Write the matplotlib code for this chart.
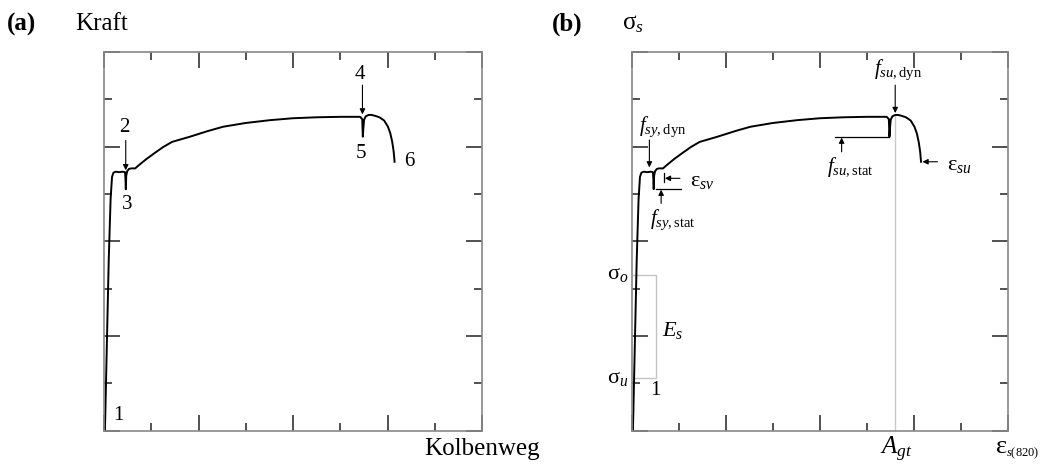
import matplotlib
matplotlib.use('Agg')
import matplotlib.pyplot as plt
from matplotlib.ticker import MultipleLocator

plt.rcParams['font.family'] = ['Liberation Serif', 'DejaVu Serif']
plt.rcParams['mathtext.fontset'] = 'custom'
plt.rcParams['mathtext.rm'] = 'Liberation Serif'
plt.rcParams['mathtext.it'] = 'Liberation Serif:italic'
plt.rcParams['mathtext.bf'] = 'Liberation Serif:bold'

# ---- data (axis units: 8 tick intervals in each direction) ----
strain = [0.02, 0.06, 0.10, 0.14, 0.17, 0.20, 0.25, 0.32, 0.40, 0.445, 0.455, 0.462,
          0.47, 0.49, 0.53, 0.58, 0.66, 0.74, 0.90, 1.08, 1.25, 1.44, 1.82, 2.20,
          2.52, 3.00, 3.52, 4.00, 4.50, 5.00, 5.42, 5.465, 5.478, 5.49, 5.505, 5.54,
          5.60, 5.66, 5.74, 5.83, 5.93, 6.01, 6.06, 6.10, 6.13, 6.15]
stress = [0.00, 1.80, 3.60, 4.90, 5.36, 5.45, 5.47, 5.46, 5.47, 5.46, 5.30, 5.10,
          5.38, 5.48, 5.53, 5.54, 5.54, 5.61, 5.74, 5.87, 5.99, 6.10, 6.21, 6.33,
          6.42, 6.50, 6.56, 6.60, 6.62, 6.63, 6.63, 6.58, 6.21, 6.40, 6.57, 6.64,
          6.67, 6.67, 6.65, 6.62, 6.55, 6.42, 6.28, 6.10, 5.90, 5.68]
point_labels = ['1', '2', '3', '4', '5', '6']

W, H = 1045, 468
fig = plt.figure(figsize=(W / 100, H / 100), dpi=100)


def px(x0, y0, x1, y1):
    return [x0 / W, 1 - y1 / H, (x1 - x0) / W, (y1 - y0) / H]


axA = fig.add_axes(px(104, 52, 482, 430.5))
axB = fig.add_axes(px(632, 52, 1008, 430.5))


def style(ax):
    ax.set_xlim(0, 8)
    ax.set_ylim(0, 8)
    for a in (ax.xaxis, ax.yaxis):
        a.set_major_locator(MultipleLocator(2))
        a.set_minor_locator(MultipleLocator(1))
    ax.tick_params(which='both', direction='in', top=True, right=True,
                   labelbottom=False, labelleft=False, color='#222222', width=1.1)
    ax.tick_params(which='major', length=11.5)
    ax.tick_params(which='minor', length=5.8)
    for s in ax.spines.values():
        s.set_color('#888888')
        s.set_linewidth(1.2)
    ax.plot(strain, stress, color='black', lw=1.4, solid_joinstyle='round')


def arrow(ax, tip, tail):
    ax.annotate('', xy=tip, xytext=tail,
                arrowprops=dict(arrowstyle='-|>', color='black', lw=0.8,
                                mutation_scale=8, shrinkA=0, shrinkB=0))


style(axA)
style(axB)

# ---------- panel (a) ----------
fsN = 15
axA.text(0.30, 0.31, point_labels[0], fontsize=fsN, ha='center', va='center')
axA.text(0.44, 6.40, point_labels[1], fontsize=fsN, ha='center', va='center')
arrow(axA, (0.46, 5.50), (0.46, 6.13))
axA.text(0.50, 4.77, point_labels[2], fontsize=fsN, ha='center', va='center')
axA.text(5.41, 7.53, point_labels[3], fontsize=fsN, ha='center', va='center')
arrow(axA, (5.47, 6.68), (5.47, 7.30))
axA.text(5.44, 5.86, point_labels[4], fontsize=fsN, ha='center', va='center')
axA.text(6.46, 5.69, point_labels[5], fontsize=fsN, ha='center', va='center')

# ---------- panel (b) ----------
fsA = 15
axB.plot([5.6, 5.6], [0, 6.67], color='#c8c8c8', lw=1.0, zorder=1)
axB.plot([0.02, 0.51, 0.51, 0.02], [3.29, 3.29, 1.10, 1.10], color='#c4c4c4', lw=1.0, zorder=1)
axB.text(-0.08, 3.29, r'$\mathrm{σ}_{o}$', fontsize=16, ha='right', va='center')
axB.text(-0.08, 1.10, r'$\mathrm{σ}_{u}$', fontsize=16, ha='right', va='center')
axB.text(0.64, 2.12, r'$E_{s}$', fontsize=16, ha='left', va='center')
axB.text(0.50, 0.84, '1', fontsize=fsN, ha='center', va='center')

axB.text(0.66, 6.42, r'$f_{sy,\mathrm{dyn}}$', fontsize=fsA, ha='center', va='center')
arrow(axB, (0.37, 5.56), (0.37, 6.14))
axB.plot([0.52, 1.05], [5.10, 5.10], color='black', lw=0.9)
arrow(axB, (0.62, 5.09), (0.62, 4.80))
axB.text(0.87, 4.45, r'$f_{sy,\mathrm{stat}}$', fontsize=fsA, ha='center', va='center')
axB.plot([0.69, 0.69], [5.25, 5.44], color='black', lw=0.9)
arrow(axB, (0.70, 5.33), (1.02, 5.33))
axB.text(1.23, 5.27, r'$\mathrm{ε}_{sv}$', fontsize=16, ha='left', va='center')

axB.text(5.67, 7.62, r'$f_{su,\mathrm{dyn}}$', fontsize=fsA, ha='center', va='center')
arrow(axB, (5.60, 6.71), (5.60, 7.30))
axB.plot([4.31, 5.46], [6.20, 6.20], color='black', lw=0.9)
arrow(axB, (4.46, 6.19), (4.46, 5.89))
axB.text(4.65, 5.57, r'$f_{su,\mathrm{stat}}$', fontsize=fsA, ha='center', va='center')
arrow(axB, (6.18, 5.68), (6.50, 5.68))
axB.text(6.71, 5.60, r'$\mathrm{ε}_{su}$', fontsize=16, ha='left', va='center')

# ---------- titles and axis names ----------
fig.text(7 / W, 1 - 24 / H, '(a)', fontsize=18, fontweight='bold', ha='left', va='center')
fig.text(75 / W, 1 - 24 / H, 'Kraft', fontsize=18, ha='left', va='center')
fig.text(552 / W, 1 - 24 / H, '(b)', fontsize=18, fontweight='bold', ha='left', va='center')
fig.text(622 / W, 1 - 24 / H, r'$\mathrm{σ}_{s}$', fontsize=18, ha='left', va='center')
fig.text(482 / W, 1 - 449 / H, 'Kolbenweg', fontsize=18, ha='center', va='center')
fig.text(896 / W, 1 - 449 / H, r'$A_{gt}$', fontsize=18, ha='center', va='center')
fig.text(996 / W, 1 - 447 / H, 'ε', fontsize=19, ha='left', va='center')
fig.text(1006 / W, 1 - 453 / H, r'$s\mathrm{(820)}$', fontsize=9, ha='left', va='center')

fig.savefig('out.png', dpi=100)
